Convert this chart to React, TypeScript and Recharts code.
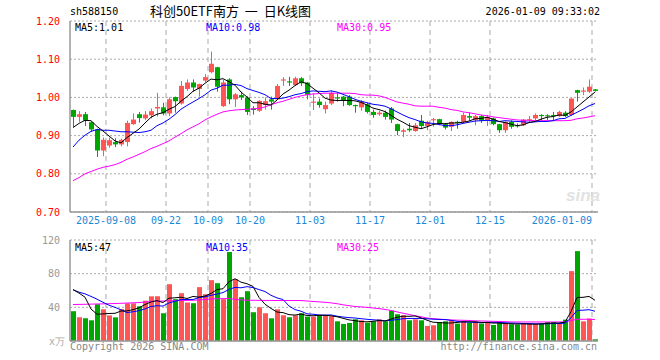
import React from 'react';
import { ComposedChart, Bar, Line, XAxis, YAxis, CartesianGrid, Cell } from 'recharts';

const dates = [
  '2025-08-29',
  '2025-09-01', '2025-09-02', '2025-09-03', '2025-09-04', '2025-09-05',
  '2025-09-08', '2025-09-09', '2025-09-10', '2025-09-11', '2025-09-12',
  '2025-09-15', '2025-09-16', '2025-09-17', '2025-09-18', '2025-09-19',
  '2025-09-22', '2025-09-23', '2025-09-24', '2025-09-25', '2025-09-26',
  '2025-09-29', '2025-09-30',
  '2025-10-09', '2025-10-10',
  '2025-10-13', '2025-10-14', '2025-10-15', '2025-10-16', '2025-10-17',
  '2025-10-20', '2025-10-21', '2025-10-22', '2025-10-23', '2025-10-24',
  '2025-10-27', '2025-10-28', '2025-10-29', '2025-10-30', '2025-10-31',
  '2025-11-03', '2025-11-04', '2025-11-05', '2025-11-06', '2025-11-07',
  '2025-11-10', '2025-11-11', '2025-11-12', '2025-11-13', '2025-11-14',
  '2025-11-17', '2025-11-18', '2025-11-19', '2025-11-20', '2025-11-21',
  '2025-11-24', '2025-11-25', '2025-11-26', '2025-11-27', '2025-11-28',
  '2025-12-01', '2025-12-02', '2025-12-03', '2025-12-04', '2025-12-05',
  '2025-12-08', '2025-12-09', '2025-12-10', '2025-12-11', '2025-12-12',
  '2025-12-15', '2025-12-16', '2025-12-17', '2025-12-18', '2025-12-19',
  '2025-12-22', '2025-12-23', '2025-12-24', '2025-12-25', '2025-12-26',
  '2025-12-29', '2025-12-30', '2025-12-31',
  '2026-01-05', '2026-01-06', '2026-01-07', '2026-01-08', '2026-01-09',
];

const opens = [
  0.967, 0.949, 0.956, 0.935, 0.916, 0.861, 0.874, 0.883, 0.877, 0.883,
  0.930, 0.956, 0.945, 0.953, 0.971, 0.974, 0.958, 1.001, 0.984, 1.022,
  1.039, 1.022, 1.044, 1.066, 1.079, 0.977, 1.047, 0.995, 1.006, 1.000,
  0.971, 0.965, 0.980, 0.995, 0.995, 1.044, 1.042, 1.032, 1.050, 1.039,
  0.986, 0.989, 0.969, 0.984, 1.000, 1.002, 1.002, 0.980, 0.974, 0.982,
  0.962, 0.956, 0.960, 0.971, 0.930, 0.910, 0.918, 0.912, 0.939, 0.925,
  0.940, 0.943, 0.930, 0.923, 0.936, 0.936, 0.951, 0.940, 0.951, 0.939,
  0.945, 0.930, 0.914, 0.936, 0.927, 0.927, 0.940, 0.945, 0.954, 0.953,
  0.954, 0.951, 0.960, 0.954, 1.019, 1.015, 1.015, 1.021,
];
const highs = [
  0.968, 0.964, 0.962, 0.937, 0.918, 0.895, 0.895, 0.893, 0.892, 0.939,
  0.958, 0.962, 0.964, 0.971, 1.012, 0.986, 1.000, 1.002, 1.043, 1.047,
  1.047, 1.036, 1.061, 1.120, 1.080, 1.046, 1.050, 1.011, 1.015, 1.003,
  0.977, 0.993, 1.000, 1.002, 1.035, 1.053, 1.054, 1.054, 1.053, 1.040,
  1.011, 0.997, 0.989, 1.018, 1.011, 1.004, 1.006, 0.981, 0.993, 0.986,
  0.968, 0.965, 0.965, 0.975, 0.931, 0.918, 0.933, 0.933, 0.954, 0.939,
  0.946, 0.944, 0.933, 0.937, 0.939, 0.960, 0.960, 0.954, 0.954, 0.954,
  0.947, 0.931, 0.937, 0.940, 0.932, 0.943, 0.951, 0.958, 0.956, 0.956,
  0.962, 0.965, 0.964, 0.998, 1.020, 1.026, 1.047, 1.022,
];
const lows = [
  0.923, 0.936, 0.925, 0.910, 0.844, 0.846, 0.868, 0.870, 0.872, 0.872,
  0.928, 0.934, 0.940, 0.945, 0.950, 0.953, 0.951, 0.960, 0.981, 1.017,
  1.015, 1.002, 1.040, 1.063, 1.015, 0.975, 0.982, 0.975, 0.993, 0.954,
  0.955, 0.962, 0.968, 0.968, 0.993, 1.030, 1.030, 1.030, 1.030, 0.995,
  0.967, 0.973, 0.958, 0.980, 0.989, 0.977, 0.978, 0.960, 0.965, 0.958,
  0.947, 0.952, 0.942, 0.933, 0.901, 0.896, 0.910, 0.910, 0.918, 0.914,
  0.923, 0.927, 0.916, 0.912, 0.918, 0.933, 0.939, 0.927, 0.933, 0.925,
  0.927, 0.907, 0.907, 0.918, 0.921, 0.925, 0.933, 0.940, 0.940, 0.941,
  0.940, 0.949, 0.949, 0.951, 0.989, 1.006, 1.012, 1.015,
];
const closes = [
  0.949, 0.956, 0.939, 0.916, 0.861, 0.889, 0.888, 0.877, 0.889, 0.933,
  0.942, 0.946, 0.955, 0.964, 0.975, 0.958, 0.995, 0.990, 1.030, 1.039,
  1.026, 1.035, 1.053, 1.088, 1.028, 1.039, 0.995, 1.008, 1.000, 0.962,
  0.967, 0.991, 0.990, 0.989, 1.030, 1.047, 1.039, 1.050, 1.037, 1.006,
  0.989, 0.980, 0.980, 1.012, 0.997, 0.991, 0.980, 0.977, 0.989, 0.962,
  0.954, 0.960, 0.949, 0.942, 0.912, 0.914, 0.914, 0.927, 0.925, 0.936,
  0.943, 0.930, 0.921, 0.936, 0.933, 0.954, 0.947, 0.951, 0.939, 0.949,
  0.930, 0.914, 0.936, 0.923, 0.925, 0.942, 0.943, 0.954, 0.951, 0.951,
  0.951, 0.962, 0.951, 0.997, 1.012, 1.018, 1.028, 1.017,
];

const ma5 = [
  0.921, 0.932, 0.940, 0.939, 0.924, 0.912, 0.899, 0.886, 0.881, 0.895,
  0.906, 0.917, 0.933, 0.948, 0.956, 0.960, 0.969, 0.976, 0.990, 1.002,
  1.016, 1.024, 1.037, 1.048, 1.046, 1.049, 1.041, 1.032, 1.014, 1.001,
  0.986, 0.986, 0.982, 0.980, 0.993, 1.009, 1.019, 1.031, 1.041, 1.036,
  1.024, 1.012, 0.998, 0.993, 0.992, 0.992, 0.992, 0.991, 0.987, 0.980,
  0.972, 0.968, 0.963, 0.953, 0.943, 0.935, 0.926, 0.922, 0.918, 0.923,
  0.929, 0.932, 0.931, 0.933, 0.933, 0.935, 0.938, 0.944, 0.945, 0.948,
  0.943, 0.937, 0.934, 0.930, 0.926, 0.928, 0.934, 0.937, 0.943, 0.948,
  0.950, 0.954, 0.953, 0.962, 0.975, 0.988, 1.001, 1.014,
];
const ma10 = [
  0.870, 0.888, 0.901, 0.911, 0.916, 0.914, 0.914, 0.912, 0.910, 0.910,
  0.909, 0.908, 0.910, 0.914, 0.926, 0.933, 0.943, 0.955, 0.969, 0.979,
  0.988, 0.997, 1.007, 1.019, 1.024, 1.032, 1.032, 1.034, 1.031, 1.023,
  1.018, 1.013, 1.007, 0.997, 0.997, 0.998, 1.002, 1.007, 1.010, 1.015,
  1.017, 1.016, 1.015, 1.017, 1.014, 1.008, 1.002, 0.995, 0.990, 0.986,
  0.982, 0.980, 0.977, 0.970, 0.962, 0.954, 0.947, 0.942, 0.936, 0.933,
  0.932, 0.929, 0.926, 0.926, 0.928, 0.932, 0.935, 0.938, 0.939, 0.940,
  0.939, 0.937, 0.939, 0.938, 0.937, 0.936, 0.935, 0.936, 0.937, 0.937,
  0.939, 0.944, 0.945, 0.953, 0.961, 0.969, 0.978, 0.984,
];
const ma30 = [
  0.782, 0.790, 0.800, 0.806, 0.812, 0.817, 0.820, 0.824, 0.830, 0.838,
  0.844, 0.851, 0.858, 0.866, 0.872, 0.879, 0.886, 0.896, 0.905, 0.915,
  0.923, 0.931, 0.941, 0.949, 0.956, 0.962, 0.965, 0.967, 0.968, 0.969,
  0.970, 0.971, 0.975, 0.981, 0.986, 0.990, 0.995, 1.000, 1.004, 1.007,
  1.009, 1.010, 1.011, 1.011, 1.011, 1.011, 1.011, 1.010, 1.007, 1.006,
  1.006, 1.004, 1.000, 0.994, 0.988, 0.985, 0.982, 0.978, 0.977, 0.977,
  0.977, 0.974, 0.972, 0.968, 0.966, 0.962, 0.960, 0.957, 0.954, 0.952,
  0.949, 0.947, 0.945, 0.943, 0.941, 0.940, 0.940, 0.939, 0.939, 0.939,
  0.939, 0.939, 0.939, 0.940, 0.944, 0.946, 0.949, 0.952,
];

// volume in 万手
const volumes = [
  35.4, 28.2, 27.0, 24.6, 43.7, 37.7, 30.4, 28.1, 38.0, 44.8,
  44.8, 41.2, 47.9, 53.1, 53.2, 33.0, 67.5, 49.7, 56.8, 45.7,
  44.9, 64.0, 55.6, 72.3, 68.7, 49.7, 105.7, 73.5, 52.0, 59.2,
  34.2, 40.1, 33.0, 27.0, 37.7, 30.6, 28.2, 30.6, 33.0, 29.0,
  29.0, 31.0, 31.0, 29.4, 23.4, 20.3, 21.4, 25.8, 24.6, 21.8,
  23.4, 25.8, 23.4, 36.1, 31.8, 30.6, 24.6, 25.8, 24.6, 17.9,
  18.7, 22.6, 23.4, 24.6, 20.7, 23.4, 21.8, 23.4, 20.7, 21.4,
  19.1, 21.8, 20.3, 19.9, 19.5, 20.3, 20.3, 20.3, 20.7, 22.6,
  22.6, 20.7, 25.4, 83.0, 106.8, 23.4, 26.6, 2.0,
];
const volMa5 = [
  61, 57, 52, 38, 31.8, 32.2, 32.7, 32.9, 35.6, 35.8,
  37.2, 39.4, 43.3, 46.4, 48.0, 45.7, 50.9, 51.3, 52.0, 50.5,
  52.9, 52.2, 53.4, 56.5, 61.1, 62.1, 70.4, 74.0, 69.9, 68.0,
  64.9, 51.8, 43.7, 38.7, 34.4, 33.7, 31.3, 30.8, 32.0, 30.3,
  30.0, 30.5, 30.6, 29.9, 28.8, 27.0, 25.1, 24.1, 23.1, 22.8,
  23.4, 24.3, 23.8, 26.1, 28.1, 29.5, 29.3, 29.8, 27.5, 24.7,
  22.3, 21.9, 21.4, 21.4, 22.0, 22.9, 22.8, 22.8, 22.0, 22.1,
  21.3, 21.3, 20.7, 20.5, 20.1, 20.4, 20.1, 20.1, 20.2, 20.8,
  21.3, 21.4, 22.4, 34.9, 51.7, 51.9, 53.0, 48.4,
];
const volMa10 = [
  61, 58, 56, 53, 49.7, 46, 42.5, 40, 37, 33.8,
  34.7, 36.0, 38.1, 41.0, 41.9, 41.5, 45.2, 47.3, 49.2, 49.3,
  49.3, 51.6, 52.4, 54.3, 55.8, 57.5, 61.3, 63.7, 63.2, 64.6,
  63.5, 61.1, 58.8, 54.3, 51.2, 49.3, 41.6, 37.3, 35.4, 32.3,
  31.8, 30.9, 30.7, 31.0, 29.5, 28.5, 27.8, 27.3, 26.5, 25.8,
  25.2, 24.7, 23.9, 24.6, 25.4, 26.5, 26.8, 26.8, 26.8, 26.4,
  25.9, 25.6, 25.6, 24.5, 23.4, 22.6, 22.4, 22.1, 21.7, 22.1,
  22.1, 22.0, 21.7, 21.3, 21.1, 20.8, 20.7, 20.4, 20.4, 20.5,
  20.8, 20.7, 21.2, 27.5, 36.3, 36.6, 37.2, 35.4,
];
const volMa30 = [
  43.3, 43.5, 43.6, 43.8, 44.0, 44.1, 44.3, 44.5, 44.8, 45.1,
  45.4, 45.7, 46.2, 47.0, 47.3, 47.5, 47.7, 47.9, 48.1, 48.2,
  48.4, 48.8, 49.3, 49.8, 50.2, 50.4, 50.4, 49.5, 48.8, 48.5,
  48.4, 48.3, 48.2, 48.2, 48.1, 48.1, 48.1, 48.1, 48.1, 47.5,
  47.0, 46.5, 46.0, 45.3, 44.3, 43.0, 42.0, 41.0, 40.5, 40.0,
  39.2, 38.5, 37.5, 36.3, 34.6, 33.0, 31.5, 30.0, 28.8, 27.3,
  26.6, 26.0, 25.3, 25.0, 24.8, 24.6, 24.4, 24.0, 23.8, 23.6,
  23.4, 23.2, 23.0, 22.6, 22.6, 22.6, 22.6, 22.6, 22.6, 22.6,
  22.6, 22.6, 22.7, 24.3, 25.8, 25.8, 25.9, 25.4,
];

const tickDates = ['2025-09-08', '2025-09-22', '2025-10-09', '2025-10-20', '2025-11-03', '2025-11-17', '2025-12-01', '2025-12-15', '2026-01-09'];
const tickLabels = ['2025-09-08', '09-22', '10-09', '10-20', '11-03', '11-17', '12-01', '12-15', '2026-01-09'];
const priceTicks = [0.7, 0.8, 0.9, 1.0, 1.1, 1.2];
const volTicks = [40, 80, 120];

const RED = '#ff5555';
const GREEN = '#00a600';
const MONO = '"DejaVu Sans Mono", "Liberation Mono", monospace';
const BORDER = '#999';

const rows = dates.map((date, i) => ({
  date,
  open: opens[i],
  high: highs[i],
  low: lows[i],
  close: closes[i],
  range: [lows[i], highs[i]],
  ma5: ma5[i],
  ma10: ma10[i],
  ma30: ma30[i],
  vol: volumes[i],
  vma5: volMa5[i],
  vma10: volMa10[i],
  vma30: volMa30[i],
}));

const isUp = (d: { open: number; close: number }) => d.close > d.open;

const Candle = (props: any) => {
  const { x, y, width, height, payload } = props;
  const { open, close, high, low } = payload;
  const color = isUp(payload) ? RED : GREEN;
  const span = high - low;
  const at = (v: number) => (span === 0 ? y : y + ((high - v) / span) * height);
  const top = at(Math.max(open, close));
  const bottom = at(Math.min(open, close));
  const left = Math.round(x);
  const w = Math.round(width);
  const cx = left + Math.floor(w / 2) + 0.5;
  return (
    <g>
      <line x1={cx} x2={cx} y1={y} y2={y + height} stroke={color} strokeWidth={1} />
      <rect x={left} y={top} width={w} height={Math.max(bottom - top, 1)} fill={color} />
    </g>
  );
};

// dashed separators sit on the left edge of the tick day's slot
const verticalLines = ({ offset }: any) =>
  tickDates.map((d) => offset.left + (offset.width * dates.indexOf(d)) / dates.length);

const DateTick = (props: any) => {
  const { x, y, payload } = props;
  const idx = tickDates.indexOf(payload.value);
  if (idx < 0) return null;
  const last = idx === tickDates.length - 1;
  return (
    <text x={x - 3} y={y} dy="0.71em" textAnchor={last ? 'end' : 'middle'} fill="#1a88d8" fontSize={10} fontFamily={MONO}>
      {tickLabels[idx]}
    </text>
  );
};

const label = (left: number, top: number, color: string, text: string) => (
  <div style={{ position: 'absolute', left, top, color, fontSize: 10, fontFamily: MONO, lineHeight: '12px', whiteSpace: 'pre' }}>
    {text}
  </div>
);

export default function App() {
  return (
    <div style={{ position: 'absolute', left: 0, top: 0, width: 660, height: 360, background: '#fff', overflow: 'hidden' }}>
      {label(70, 6, '#000', 'sh588150')}
      <div style={{ position: 'absolute', left: 150, top: 3, fontSize: 13, lineHeight: '16px', fontFamily: '"Noto Sans CJK SC", sans-serif', color: '#000', whiteSpace: 'pre' }}>
        {'科创50ETF南方  一  日K线图'}
      </div>
      <div style={{ position: 'absolute', right: 60, top: 6, fontSize: 10, lineHeight: '12px', fontFamily: MONO, color: '#000' }}>
        2026-01-09 09:33:02
      </div>

      <div style={{ position: 'absolute', left: 0, top: 0 }}>
        <ComposedChart width={660} height={230} data={rows} margin={{ top: 21, right: 62, bottom: 0, left: 8 }}>
          <CartesianGrid horizontal vertical={false} stroke="#aaa" strokeDasharray="2 2" />
          <CartesianGrid horizontal={false} vertical stroke="#aaa" strokeDasharray="5 4" verticalCoordinatesGenerator={verticalLines} />
          <XAxis
            dataKey="date"
            ticks={tickDates}
            interval={0}
            tick={<DateTick />}
            tickLine={false}
            tickSize={0}
            tickMargin={5}
            height={18}
            axisLine={{ stroke: BORDER, strokeWidth: 1.5 }}
          />
          <XAxis xAxisId="top" dataKey="date" orientation="top" height={0} tick={false} tickLine={false} axisLine={{ stroke: BORDER, strokeWidth: 1.5 }} />
          <YAxis
            domain={[0.7, 1.2]}
            ticks={priceTicks}
            allowDataOverflow
            tickFormatter={(v: number) => v.toFixed(2)}
            tick={{ fill: '#ff0000', fontSize: 10, fontFamily: MONO }}
            tickLine={false}
            tickMargin={4}
            width={62}
            axisLine={{ stroke: BORDER, strokeWidth: 1.5 }}
          />
          <YAxis yAxisId="right" orientation="right" width={0} tick={false} tickLine={false} axisLine={{ stroke: BORDER, strokeWidth: 1.5 }} />
          <Bar dataKey="range" barSize={5} shape={<Candle />} isAnimationActive={false} />
          <Line dataKey="ma30" stroke="#ff00ff" strokeWidth={1} dot={false} activeDot={false} isAnimationActive={false} />
          <Line dataKey="ma10" stroke="#0000ff" strokeWidth={1} dot={false} activeDot={false} isAnimationActive={false} />
          <Line dataKey="ma5" stroke="#000" strokeWidth={1} dot={false} activeDot={false} isAnimationActive={false} />
        </ComposedChart>
      </div>
      {label(75, 22, '#000', 'MA5:1.01')}
      {label(206, 22, '#0000ff', 'MA10:0.98')}
      {label(337, 22, '#ff00ff', 'MA30:0.95')}
      <div style={{ position: 'absolute', left: 566, top: 186, fontSize: 17, fontWeight: 'bold', fontStyle: 'italic', fontFamily: 'Arial, sans-serif', color: '#e2e2e2' }}>
        sina
      </div>

      <div style={{ position: 'absolute', left: 0, top: 228 }}>
        <ComposedChart width={660} height={132} data={rows} margin={{ top: 12, right: 62, bottom: 0, left: 8 }}>
          <CartesianGrid horizontal vertical={false} stroke="#aaa" strokeDasharray="2 2" />
          <CartesianGrid horizontal={false} vertical stroke="#aaa" strokeDasharray="5 4" verticalCoordinatesGenerator={verticalLines} />
          <XAxis dataKey="date" tick={false} tickLine={false} height={19} axisLine={{ stroke: BORDER, strokeWidth: 1.5 }} />
          <XAxis xAxisId="top" dataKey="date" orientation="top" height={0} tick={false} tickLine={false} axisLine={{ stroke: BORDER, strokeWidth: 1.5 }} />
          <YAxis
            domain={[0, 120]}
            ticks={volTicks}
            allowDataOverflow
            tick={{ fill: '#999', fontSize: 10, fontFamily: MONO }}
            tickLine={false}
            tickMargin={4}
            width={62}
            axisLine={{ stroke: BORDER, strokeWidth: 1.5 }}
          />
          <YAxis yAxisId="right" orientation="right" width={0} tick={false} tickLine={false} axisLine={{ stroke: BORDER, strokeWidth: 1.5 }} />
          <Bar dataKey="vol" barSize={5} isAnimationActive={false}>
            {rows.map((d) => (
              <Cell key={d.date} fill={isUp(d) ? RED : GREEN} />
            ))}
          </Bar>
          <Line dataKey="vma30" stroke="#ff00ff" strokeWidth={1} dot={false} activeDot={false} isAnimationActive={false} />
          <Line dataKey="vma10" stroke="#0000ff" strokeWidth={1} dot={false} activeDot={false} isAnimationActive={false} />
          <Line dataKey="vma5" stroke="#000" strokeWidth={1} dot={false} activeDot={false} isAnimationActive={false} />
        </ComposedChart>
      </div>
      {label(75, 242, '#000', 'MA5:47')}
      {label(206, 242, '#0000ff', 'MA10:35')}
      {label(337, 242, '#ff00ff', 'MA30:25')}
      {label(49, 336, '#aaa', 'x万')}
      {label(70, 341, '#888', 'Copyright 2026 SINA.COM')}
      <div style={{ position: 'absolute', right: 63, top: 341, fontSize: 10, lineHeight: '12px', fontFamily: MONO, color: '#888' }}>
        http://finance.sina.com.cn
      </div>
    </div>
  );
}
